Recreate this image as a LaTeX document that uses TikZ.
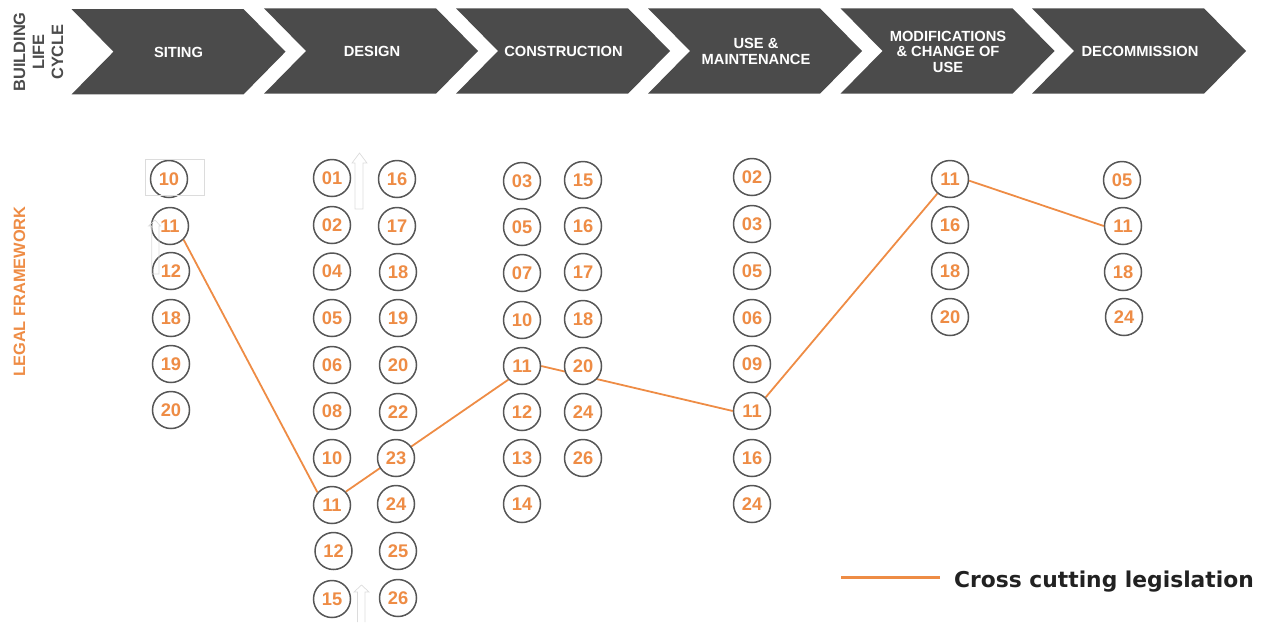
\documentclass[tikz,border=0pt]{standalone}
\usepackage{fontspec}
\usetikzlibrary{backgrounds}
\setmainfont{Liberation Sans}
\newfontfamily\legendfont{DejaVu Sans}
\definecolor{chevdark}{HTML}{4B4B4B}
\definecolor{legalorange}{HTML}{EE8C45}
\definecolor{ringgray}{HTML}{565656}
\definecolor{ghostgray}{HTML}{DCDCDC}
\newcommand{\chevshape}[2]{%
  \fill[chevdark] (#1,#2) -- ++(172,0) -- ++(42,42.7) -- ++(-42,42.7) -- ++(-172,0) -- ++(42,-42.7) -- cycle;}
\tikzset{
  x=1pt,y=-1pt,
  ring/.style={circle,draw=ringgray,fill=white,line width=1.5pt,minimum size=37pt,inner sep=0pt,text=legalorange,
    font=\bfseries\fontsize{18.3}{18}\selectfont},
  stagelabel/.style={text=white,align=center,inner sep=0pt,font=\bfseries\fontsize{14.7}{15.5}\selectfont},
  sidelabel/.style={rotate=90,align=center,inner sep=0pt,font=\bfseries\fontsize{16.4}{19}\selectfont},
  crossline/.style={draw=legalorange,line width=1.8pt},
  ghost/.style={draw=ghostgray,line width=.7pt},
}
\begin{document}
\begin{tikzpicture}
\useasboundingbox (0,0) rectangle (1272,622);
% chevrons
\chevshape{71.5}{9}
\chevshape{264}{8.3}
\chevshape{456}{8.3}
\chevshape{648}{8.3}
\chevshape{840.5}{8.3}
\chevshape{1032}{8.3}
\node[stagelabel] (lsit) at (178.5,52.6) {SITING};
\node[stagelabel] (ldes) at (372,51.6) {DESIGN};
\node[stagelabel] (lcon) at (563.5,51.6) {CONSTRUCTION};
\node[stagelabel] (luse) at (756,51.6) {USE \&\\MAINTENANCE};
\node[stagelabel] (lmod) at (948,51.6) {MODIFICATIONS\\\& CHANGE OF\\USE};
\node[stagelabel] (ldec) at (1140,51.6) {DECOMMISSION};
% side labels
\node[sidelabel,text=chevdark] (blc) at (38.5,52) {BUILDING\\LIFE\\CYCLE};
\node[sidelabel,text=legalorange] (legal) at (19.5,291.5) {LEGAL FRAMEWORK};
% circles
\foreach \n/\t/\x/\y in {
  s10/10/169/179, s11/11/170/226, s12/12/171/271, s18/18/171/318, s19/19/171/364, s20/20/171/410,
  da01/01/332/178, da02/02/332/225, da04/04/332/271.5, da05/05/332/318, da06/06/332/365,
  da08/08/332/411, da10/10/332/458, da11/11/332/505, da12/12/333.5/551, da15/15/332/599,
  db16/16/397/179, db17/17/397/226, db18/18/398/272, db19/19/398/318, db20/20/398/365,
  db22/22/398/412, db23/23/396/458, db24/24/396/504, db25/25/398/551, db26/26/398/598,
  ca03/03/522/181, ca05/05/522/227, ca07/07/522/273, ca10/10/522/320, ca11/11/522/366,
  ca12/12/522/412, ca13/13/522/458, ca14/14/522/504,
  cb15/15/583/180, cb16/16/583/226, cb17/17/583/272, cb18/18/583/319, cb20/20/583/366,
  cb24/24/583/412, cb26/26/583/458,
  u02/02/752/177, u03/03/752/224, u05/05/752/271, u06/06/752/318, u09/09/752/364,
  u11/11/752/411, u16/16/752/458, u24/24/752/504,
  m11/11/950/179, m16/16/950/225, m18/18/950/271, m20/20/950/317,
  x05/05/1122/180, x11/11/1123/226, x18/18/1123/272, x24/24/1124/317}
  {\node[ring] (\n) at (\x,\y) {\t};}
% cross cutting line, behind the circles
\begin{scope}[on background layer]
\draw[crossline] (s11.315) -- (da11.139);
\draw[crossline] (da11.44) -- (ca11.225);
\draw[crossline] (ca11.east) -- (u11.west);
\draw[crossline] (u11.45) -- (m11.229);
\draw[crossline] (m11.355) -- (x11.west);
\end{scope}
% faint leftover outlines
\draw[ghost] (145.5,159.5) rectangle (204,195);
\draw[ghost] (355,209) -- (355,163) -- (352,163) -- (359.5,153) -- (367,163) -- (363,163) -- (363,209) -- cycle;
\draw[ghost] (151.7,274) -- (151.7,226) -- (148.5,226) -- (155,220) -- (160.5,226) -- (159,226) -- (159,274) -- cycle;
\draw[ghost] (357.5,622) -- (357.5,592) -- (354,592) -- (361.5,585) -- (369,592) -- (365,592) -- (365,622);
% legend
\coordinate (lega) at (841,577.3);
\coordinate (legb) at (940,577.3);
\draw[crossline,line width=2.8pt] (lega) -- (legb);
\node[anchor=base west,inner sep=0pt,text=black!87,font=\legendfont\bfseries\fontsize{21.8}{22}\selectfont] (legtext) at (954,587) {Cross cutting legislation};
\end{tikzpicture}
\end{document}
